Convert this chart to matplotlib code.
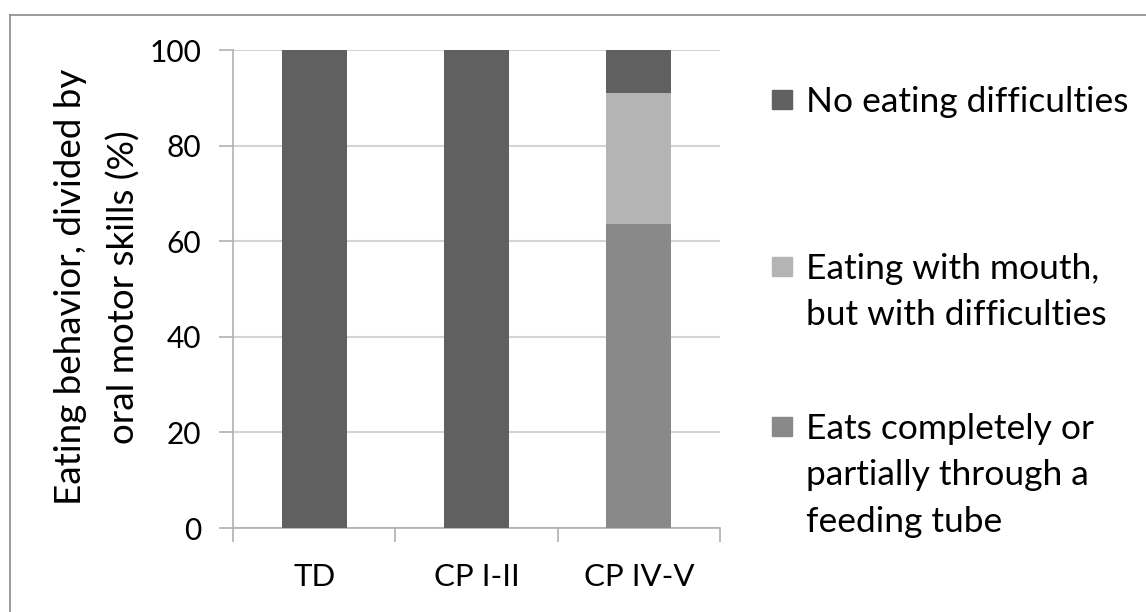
import matplotlib.pyplot as plt
from matplotlib.patches import Rectangle
import numpy as np

plt.rcParams['font.family'] = ['Lato', 'DejaVu Sans']

groups = ['TD', 'CP I-II', 'CP IV-V']
# stacked from bottom to top
tube = [0, 0, 63.6]
mouth_diff = [0, 0, 27.3]
no_diff = [100, 100, 9.1]

labels = ['No eating difficulties',
          'Eating with mouth,\nbut with difficulties',
          'Eats completely or\npartially through a\nfeeding tube']
colors = ['#606060', '#b4b4b4', '#898989']

fig = plt.figure(figsize=(11.46, 6.12), dpi=100)
W, H = 1146, 612
ax = fig.add_axes([233 / W, 1 - 528 / H, (720 - 233) / W, (528 - 50) / H])

x = np.arange(len(groups))
ax.bar(x, tube, 0.4, color=colors[2], zorder=3)
ax.bar(x, mouth_diff, 0.4, bottom=tube, color=colors[1], zorder=3)
ax.bar(x, no_diff, 0.4, bottom=np.add(tube, mouth_diff), color=colors[0], zorder=3)

ax.set_xlim(-0.5, 2.5)
ax.set_ylim(0, 100)
ax.set_yticks([0, 20, 40, 60, 80, 100])
ax.yaxis.grid(True, color='#d4d4d4', lw=1.5, zorder=0)
for s in ['top', 'right']:
    ax.spines[s].set_visible(False)
for s in ['left', 'bottom']:
    ax.spines[s].set_color('#b0b0b0')
    ax.spines[s].set_linewidth(1.2)

ax.set_xticks([-0.5, 0.5, 1.5, 2.5])
ax.set_xticklabels([])
ax.set_xticks(x, minor=True)
ax.set_xticklabels(groups, minor=True, fontsize=22.5)
ax.tick_params(axis='x', which='major', length=10, color='#b0b0b0', width=1.2)
ax.tick_params(axis='x', which='minor', length=0, pad=25)
ax.tick_params(axis='y', length=10, color='#b0b0b0', width=1.2, labelsize=21.5, pad=13)

fig.text(97 / W, 1 - 287 / H, 'Eating behavior, divided by\noral motor skills (%)',
         fontsize=26.5, rotation=90, ha='center', va='center', multialignment='center',
         linespacing=1.7)

# legend drawn by hand to keep the Excel-like spacing
top_y = [86, 253, 413]
for lab, c, yy in zip(labels, colors, top_y):
    fig.patches.append(Rectangle((772 / W, 1 - (yy + 23) / H), 20 / W, 19 / H,
                                 transform=fig.transFigure, color=c))
    fig.text(806 / W, 1 - yy / H, lab, fontsize=25.5, va='top', ha='left',
             linespacing=1.55, transform=fig.transFigure)

# outer frame (top and left edges)
fig.add_artist(plt.Line2D([10 / W, 1], [1 - 15 / H, 1 - 15 / H], color='#8a8a8a', lw=1.2))
fig.add_artist(plt.Line2D([10 / W, 10 / W], [0, 1 - 15 / H], color='#8a8a8a', lw=1.2))

fig.savefig('out.png', dpi=100)
